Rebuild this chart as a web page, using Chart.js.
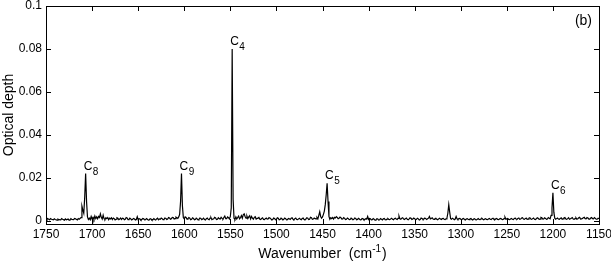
<!DOCTYPE html>
<html>
<head>
<meta charset="utf-8">
<script src="https://cdn.jsdelivr.net/npm/chart.js@4.4.1/dist/chart.umd.min.js"></script>
<style>
  html, body { margin: 0; padding: 0; background: #fff; }
  canvas { display: block; }
</style>
</head>
<body>
<canvas id="chart" width="611" height="261"></canvas>
<script>
// spectrum: [wavenumber cm^-1, optical depth x 1000]
const spectrum = [
  [1750,1.4],[1749,0.6],[1748,1.0],[1746,0.5],[1745,1.0],[1744,0.7],[1742,0.4],[1741,0.9],[1740,0.6],[1738,0.3],
  [1737,0.8],[1736,0.5],[1734,0.4],[1733,1.0],[1732,0.7],[1730,0.3],[1729,0.9],[1728,0.5],[1726,0.8],[1725,0.3],
  [1724,0.4],[1723,1.0],[1722,0.6],[1720,0.5],[1719,1.1],[1718,0.9],[1716,0.4],[1715,1.0],[1714,0.7],[1712,1.5],
  [1711,6.8],[1710,5.0],[1709,3.5],[1708,11],[1707,22],[1706,9],[1705,1.8],[1704,0.6],[1703,1.2],[1702,0.5],
  [1701,2.0],[1700,0.8],[1699,1.6],[1698,0.6],[1697,2.2],[1696,1.0],[1695,1.8],[1694,0.9],[1693,2.0],[1692,1.5],
  [1691,3.2],[1690,1.6],[1689,0.8],[1688,2.6],[1687,1.0],[1686,0.6],[1685,1.4],[1684,1.0],[1683,1.5],[1682,0.5],
  [1681,1.2],[1680,0.9],[1679,1.4],[1678,0.6],[1677,1.3],[1676,1.0],[1675,0.4],[1674,0.7],[1673,1.4],[1672,1.2],
  [1671,0.5],[1670,0.8],[1669,1.3],[1668,0.6],[1667,1.2],[1666,1.1],[1665,0.5],[1664,0.7],[1663,1.5],[1662,1.3],
  [1661,0.5],[1660,0.6],[1659,1.2],[1658,0.9],[1657,0.4],[1656,0.7],[1655,1.1],[1654,0.8],[1653,0.4],[1652,0.6],
  [1651,1.9],[1650,0.5],[1649,1.0],[1648,0.8],[1647,0.3],[1646,0.6],[1645,1.1],[1644,0.9],[1643,0.4],[1642,0.5],
  [1641,1.0],[1640,0.7],[1639,0.3],[1638,0.4],[1637,1.0],[1636,0.8],[1635,0.3],[1634,0.5],[1633,1.0],[1632,0.6],
  [1631,0.4],[1630,0.9],[1629,1.2],[1628,0.5],[1627,0.9],[1626,0.7],[1625,1.3],[1624,1.0],[1623,0.5],[1622,0.6],
  [1621,1.3],[1620,1.1],[1619,0.6],[1618,0.8],[1617,1.5],[1616,1.3],[1615,0.7],[1614,0.9],[1613,1.6],[1612,1.5],
  [1611,0.8],[1610,1.0],[1609,1.7],[1608,1.4],[1607,1.1],[1606,1.8],[1605,3.0],[1604,9],[1603,22],[1602,7],
  [1601,1.5],[1600,0.9],[1599,1.8],[1598,1.6],[1597,0.8],[1596,1.0],[1595,1.5],[1594,1.2],[1593,0.5],[1592,0.7],
  [1591,1.4],[1590,1.1],[1589,0.5],[1588,0.6],[1587,1.2],[1586,0.9],[1585,0.4],[1584,0.7],[1583,1.3],[1582,1.1],
  [1581,0.5],[1580,0.8],[1579,1.2],[1578,0.6],[1577,0.4],[1576,1.0],[1575,1.3],[1574,0.7],[1573,0.5],[1572,1.2],
  [1571,1.5],[1570,0.5],[1569,0.8],[1568,0.9],[1567,1.6],[1566,1.3],[1565,0.6],[1564,0.7],[1563,1.4],[1562,1.0],
  [1561,0.8],[1560,1.6],[1559,1.1],[1558,0.8],[1557,1.5],[1556,2.2],[1555,1.0],[1554,1.0],[1553,1.8],[1552,1.4],
  [1551,0.8],[1550,2.0],[1549,6],[1548,80],[1547,10],[1546,1.2],[1545,0.6],[1544,1.8],[1543,0.8],[1542,1.5],
  [1541,2.2],[1540,0.9],[1539,1.4],[1538,2.4],[1537,1.2],[1536,2.8],[1535,3.2],[1534,2.0],[1533,1.2],[1532,2.2],
  [1531,1.0],[1530,1.8],[1529,2.3],[1528,0.9],[1527,2.0],[1526,1.2],[1525,0.7],[1524,1.6],[1523,1.9],[1522,0.8],
  [1521,1.1],[1520,1.3],[1519,1.6],[1518,0.7],[1517,0.6],[1516,1.1],[1515,1.4],[1514,0.6],[1513,0.5],[1512,1.0],
  [1511,1.3],[1510,0.8],[1509,0.9],[1508,1.5],[1507,1.2],[1506,0.9],[1505,0.4],[1504,0.6],[1503,1.3],[1502,1.1],
  [1501,0.5],[1500,0.7],[1499,1.4],[1498,1.2],[1497,0.5],[1496,0.6],[1495,1.2],[1494,0.9],[1493,0.4],[1492,0.7],
  [1491,1.3],[1490,1.0],[1489,0.4],[1488,0.5],[1487,1.1],[1486,0.9],[1485,0.6],[1484,1.2],[1483,1.4],[1482,0.7],
  [1481,0.5],[1480,1.0],[1479,1.3],[1478,0.6],[1477,0.5],[1476,0.9],[1475,1.2],[1474,0.7],[1473,0.5],[1472,1.1],
  [1471,1.3],[1470,0.6],[1469,0.5],[1468,0.8],[1467,1.4],[1466,1.2],[1465,0.6],[1464,0.7],[1463,1.6],[1462,1.4],
  [1461,0.7],[1460,0.8],[1459,1.3],[1458,1.0],[1457,0.9],[1456,1.6],[1455,0.9],[1454,2.5],[1453,4.2],[1452,2.0],
  [1451,1.2],[1450,1.8],[1449,3.0],[1448,4.5],[1447,7.5],[1446,12],[1445,17.5],[1444,9],[1443,2.0],[1442,0.7],
  [1441,1.4],[1440,1.0],[1439,1.5],[1438,0.8],[1437,1.6],[1436,1.3],[1435,1.9],[1434,1.6],[1433,1.0],[1432,1.2],
  [1431,1.7],[1430,1.4],[1429,0.8],[1428,0.9],[1427,1.5],[1426,1.1],[1425,0.6],[1424,0.7],[1423,1.3],[1422,1.0],
  [1421,0.5],[1420,0.6],[1419,1.2],[1418,0.9],[1417,0.5],[1416,0.7],[1415,1.3],[1414,1.1],[1413,0.5],[1412,0.6],
  [1411,1.1],[1410,0.8],[1409,0.4],[1408,0.5],[1407,1.1],[1406,0.9],[1405,0.4],[1404,0.6],[1403,1.0],[1402,0.8],
  [1401,2.0],[1400,0.6],[1399,1.1],[1398,0.9],[1397,0.4],[1396,0.5],[1395,1.0],[1394,0.7],[1393,0.3],[1392,0.4],
  [1391,1.0],[1390,0.8],[1389,0.3],[1388,0.5],[1387,1.0],[1386,0.7],[1385,0.4],[1384,0.9],[1383,1.1],[1382,0.5],
  [1381,0.4],[1380,0.8],[1379,1.0],[1378,0.6],[1377,0.5],[1376,0.9],[1375,1.2],[1374,0.7],[1373,0.5],[1372,1.0],
  [1371,1.2],[1370,0.8],[1369,0.6],[1368,1.1],[1367,2.2],[1366,0.9],[1365,0.7],[1364,1.2],[1363,1.4],[1362,0.8],
  [1361,0.6],[1360,1.0],[1359,1.3],[1358,0.7],[1357,0.5],[1356,0.9],[1355,1.4],[1354,1.2],[1353,0.6],[1352,0.8],
  [1351,1.3],[1350,1.0],[1349,0.5],[1348,0.7],[1347,1.2],[1346,0.9],[1345,0.4],[1344,0.6],[1343,1.3],[1342,1.1],
  [1341,0.6],[1340,0.8],[1339,1.3],[1338,1.0],[1337,0.6],[1336,0.9],[1335,1.2],[1334,2.0],[1333,0.9],[1332,1.1],
  [1331,1.4],[1330,0.8],[1329,0.6],[1328,1.0],[1327,1.2],[1326,0.7],[1325,0.5],[1324,0.9],[1323,1.2],[1322,0.8],
  [1321,0.6],[1320,1.0],[1319,1.1],[1318,0.7],[1317,0.6],[1316,0.9],[1315,1.2],[1314,3.5],[1313,7.5],[1312,4.0],
  [1311,1.0],[1310,0.7],[1309,1.2],[1308,0.9],[1307,0.5],[1306,0.8],[1305,2.0],[1304,0.9],[1303,0.6],[1302,1.0],
  [1301,1.1],[1300,0.7],[1299,0.5],[1298,0.9],[1297,1.1],[1296,0.6],[1295,0.4],[1294,0.8],[1293,1.0],[1292,0.7],
  [1291,0.5],[1290,0.9],[1289,1.1],[1288,0.6],[1287,0.4],[1286,0.8],[1285,1.0],[1284,0.5],[1283,0.4],[1282,0.7],
  [1281,1.0],[1280,0.6],[1279,0.5],[1278,0.9],[1277,1.1],[1276,0.7],[1275,0.5],[1274,0.8],[1273,1.0],[1272,0.6],
  [1271,0.5],[1270,0.8],[1269,1.1],[1268,0.7],[1267,0.6],[1266,1.0],[1265,1.2],[1264,0.7],[1263,0.5],[1262,0.9],
  [1261,1.1],[1260,0.6],[1259,0.5],[1258,0.8],[1257,1.1],[1256,0.9],[1255,0.5],[1254,0.6],[1253,1.0],[1252,1.7],
  [1251,0.7],[1250,0.9],[1249,1.1],[1248,0.6],[1247,0.5],[1246,0.8],[1245,1.1],[1244,0.7],[1243,0.6],[1242,1.0],
  [1241,1.3],[1240,0.8],[1239,0.7],[1238,1.1],[1237,1.3],[1236,0.7],[1235,0.8],[1234,1.3],[1233,1.4],[1232,0.8],
  [1231,0.7],[1230,1.0],[1229,1.3],[1228,0.7],[1227,0.8],[1226,1.2],[1225,1.4],[1224,0.8],[1223,0.7],[1222,1.0],
  [1221,1.3],[1220,0.7],[1219,0.6],[1218,0.9],[1217,1.4],[1216,1.2],[1215,0.7],[1214,0.8],[1213,1.6],[1212,1.4],
  [1211,0.8],[1210,0.9],[1209,1.4],[1208,1.1],[1207,0.7],[1206,0.8],[1205,1.5],[1204,1.2],[1203,0.9],[1202,2.5],
  [1201,6],[1200,13],[1199,4],[1198,1.2],[1197,0.7],[1196,1.0],[1195,1.3],[1194,0.8],[1193,0.7],[1192,1.1],
  [1191,1.4],[1190,0.7],[1189,0.9],[1188,1.3],[1187,1.5],[1186,0.8],[1185,0.7],[1184,1.0],[1183,1.4],[1182,0.7],
  [1181,0.9],[1180,1.2],[1179,1.5],[1178,0.8],[1177,0.7],[1176,1.0],[1175,1.4],[1174,0.7],[1173,0.9],[1172,1.4],
  [1171,1.6],[1170,0.8],[1169,0.9],[1168,1.1],[1167,1.4],[1166,1.6],[1165,1.0],[1164,0.9],[1163,1.5],[1162,1.3],
  [1161,0.8],[1160,0.8],[1159,1.3],[1158,1.5],[1157,1.0],[1156,0.9],[1155,1.5],[1154,1.1],[1153,0.7],[1152,0.7],
  [1151,1.2],[1150,0.9]
];

// peak labels: C with subscript, placed over the peak at that wavenumber
const peakWavenumbers = [1707, 1603, 1548, 1445, 1200];
const peakSubscripts = ['8', '9', '4', '5', '6'];

const xTicks = [1750, 1700, 1650, 1600, 1550, 1500, 1450, 1400, 1350, 1300, 1250, 1200, 1150];
const yTicks = [0, 0.02, 0.04, 0.06, 0.08, 0.1];

const FONT = '"Liberation Sans", Arial, Helvetica, sans-serif';
const TICK = 5;

function peakValue(wn) {
  let best = 0;
  spectrum.forEach(function (p) {
    if (Math.abs(p[0] - wn) <= 2 && p[1] > best) best = p[1];
  });
  return best / 1000;
}

const decorPlugin = {
  id: 'decor',
  afterDatasetsDraw(chart) {
    const ctx = chart.ctx;
    const a = chart.chartArea;
    const x = chart.scales.x, y = chart.scales.y;
    ctx.save();
    ctx.strokeStyle = '#000';
    ctx.lineWidth = 1;
    ctx.strokeRect(a.left + 0.5, a.top + 0.5, a.right - a.left, a.bottom - a.top);

    // inward ticks on all four sides
    ctx.beginPath();
    xTicks.forEach(function (v) {
      const px = Math.round(x.getPixelForValue(v)) + 0.5;
      ctx.moveTo(px, a.top); ctx.lineTo(px, a.top + TICK);
      ctx.moveTo(px, a.bottom); ctx.lineTo(px, a.bottom - TICK);
    });
    yTicks.forEach(function (v) {
      const py = Math.round(y.getPixelForValue(v)) + 0.5;
      ctx.moveTo(a.left, py); ctx.lineTo(a.left + TICK, py);
      ctx.moveTo(a.right, py); ctx.lineTo(a.right - TICK, py);
    });
    ctx.stroke();

    // peak labels
    ctx.fillStyle = '#000';
    ctx.textBaseline = 'alphabetic';
    ctx.textAlign = 'left';
    peakWavenumbers.forEach(function (wn, i) {
      const px = x.getPixelForValue(wn) - 2;
      const py = y.getPixelForValue(peakValue(wn)) - 4;
      ctx.font = '12px ' + FONT;
      ctx.fillText('C', px, py);
      const w = ctx.measureText('C').width;
      ctx.font = '10px ' + FONT;
      ctx.fillText(peakSubscripts[i], px + w + 0.5, py + 5);
    });

    // panel tag
    ctx.font = '14px ' + FONT;
    ctx.textAlign = 'right';
    ctx.fillText('(b)', a.right - 7, 25);

    // y title
    ctx.save();
    ctx.translate(9, (a.top + a.bottom) / 2);
    ctx.rotate(-Math.PI / 2);
    ctx.textAlign = 'center';
    ctx.textBaseline = 'middle';
    ctx.font = '14px ' + FONT;
    ctx.fillText('Optical depth', 0, 0);
    ctx.restore();

    // x title with superscript
    const main = 'Wavenumber  (cm';
    ctx.font = '14px ' + FONT;
    const wMain = ctx.measureText(main).width;
    const wClose = ctx.measureText(')').width;
    ctx.font = '10px ' + FONT;
    const wSup = ctx.measureText('-1').width;
    const total = wMain + wSup + 1 + wClose;
    let tx = (a.left + a.right) / 2 - total / 2;
    const base = 258;
    ctx.textAlign = 'left';
    ctx.font = '14px ' + FONT;
    ctx.fillText(main, tx, base);
    tx += wMain;
    ctx.font = '10px ' + FONT;
    ctx.fillText('-1', tx, base - 6);
    tx += wSup + 1;
    ctx.font = '14px ' + FONT;
    ctx.fillText(')', tx, base);
    ctx.restore();
  }
};

new Chart(document.getElementById('chart').getContext('2d'), {
  type: 'line',
  data: {
    datasets: [{
      data: spectrum.map(function (p) { return { x: p[0], y: p[1] / 1000 }; }),
      borderColor: '#000',
      borderWidth: 1.2,
      pointRadius: 0,
      tension: 0,
      fill: false
    }]
  },
  options: {
    responsive: false,
    animation: false,
    devicePixelRatio: 1,
    layout: { padding: { top: 6, right: 12, left: 0, bottom: 0 } },
    plugins: { legend: { display: false }, tooltip: { enabled: false } },
    scales: {
      x: {
        type: 'linear',
        reverse: true,
        min: 1150,
        max: 1750,
        grid: { display: false, drawTicks: false },
        border: { display: false },
        afterBuildTicks: function (s) { s.ticks = xTicks.map(function (v) { return { value: v }; }); },
        // fixed axis height; end labels may overhang instead of shrinking the plot
        afterFit: function (s) { s.height = 37; s.paddingLeft = 0; s.paddingRight = 0; },
        ticks: {
          color: '#000', font: { family: FONT, size: 12 }, padding: 3,
          maxRotation: 0, autoSkip: false,
          callback: function (v) { return String(v); }
        }
      },
      y: {
        min: -0.0015,
        max: 0.1,
        grid: { display: false, drawTicks: false },
        border: { display: false },
        afterBuildTicks: function (s) { s.ticks = yTicks.map(function (v) { return { value: v }; }); },
        afterFit: function (s) { s.width = 46; s.paddingTop = 0; s.paddingBottom = 0; },
        ticks: {
          color: '#000', font: { family: FONT, size: 12 }, padding: 4,
          callback: function (v) { return v === 0 ? '0' : String(parseFloat(v.toFixed(3))); }
        }
      }
    }
  },
  plugins: [decorPlugin]
});
</script>
</body>
</html>
